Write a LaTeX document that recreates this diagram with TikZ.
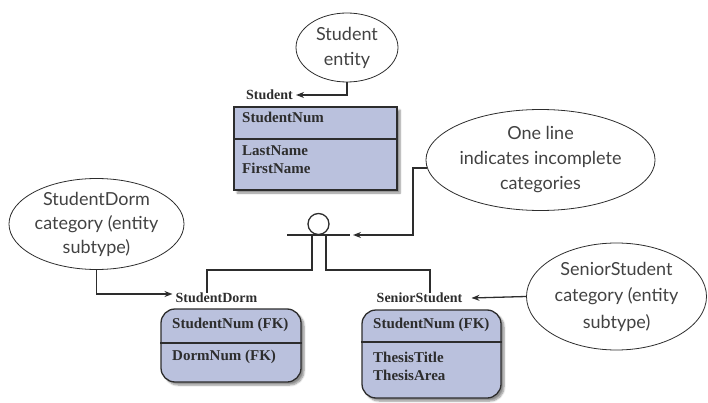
\documentclass[tikz,border=0pt]{standalone}
\usepackage{fontspec}
\setmainfont{Liberation Serif}
\newfontfamily\notesans{Lato}
\usetikzlibrary{shapes.geometric,arrows.meta,shadows.blur}
\definecolor{entfill}{RGB}{186,193,221}
\definecolor{inkc}{RGB}{45,45,45}
\tikzset{
  entbox/.style={draw=inkc, fill=entfill, line width=1.3pt,
    blur shadow={shadow xshift=3pt, shadow yshift=-3pt, shadow blur steps=6, shadow opacity=45}},
  note/.style={ellipse, draw=inkc, line width=0.8pt, inner sep=0pt, align=center,
    font=\notesans\fontsize{18}{25}\selectfont, text=inkc!90},
  lbl/.style={inner sep=0pt, font=\bfseries\fontsize{14}{16}\selectfont, text=inkc},
  attr/.style={inner sep=0pt, anchor=west, font=\bfseries\fontsize{15}{17}\selectfont, text=inkc},
  conn/.style={draw=inkc, line width=1.3pt},
  arr/.style={conn, -{Stealth[length=8pt,width=6pt]}},
}
\begin{document}
\begin{tikzpicture}[x=1pt,y=-1pt]
  \useasboundingbox (0,0) rectangle (708,403);
  % supertype
  \node[lbl] (studentlbl) at (269.5,95) {Student};
  \node[entbox, minimum width=163pt, minimum height=83pt] (studentbox) at (315.5,148.5) {};
  \draw[conn] (studentbox.west |- 0,139) -- (studentbox.east |- 0,139);
  \node[attr] (snum) at (242,117) {StudentNum};
  \node[attr] (slast) at (242,151) {LastName};
  \node[attr] (sfirst) at (242,168) {FirstName};
  % category symbol
  \coordinate (barL) at (287,235);
  \coordinate (barR) at (350,235);
  \coordinate (catL) at (312,235);
  \coordinate (catR) at (326,235);
  \coordinate (dormjoin) at (207,270);
  \coordinate (seniorjoin) at (430,270);
  \coordinate (notebend) at (413,235);
  \node[circle, draw=inkc, line width=1.3pt, minimum size=21pt, inner sep=0pt] (catcircle) at (318.5,224) {};
  \draw[conn] (barL) -- (barR);
  % subtypes
  \node[lbl] (dormlbl) at (216.5,298) {StudentDorm};
  \node[entbox, rounded corners=14pt, minimum width=140pt, minimum height=73pt] (dormbox) at (231,345.5) {};
  \draw[conn] (dormbox.west |- 0,343) -- (dormbox.east |- 0,343);
  \node[attr] (dnum) at (172,325) {StudentNum (FK)};
  \node[attr] (droom) at (172,357) {DormNum (FK)};
  \node[lbl] (seniorlbl) at (419.5,298) {SeniorStudent};
  \node[entbox, rounded corners=14pt, minimum width=139pt, minimum height=88pt] (seniorbox) at (431.5,354) {};
  \draw[conn] (seniorbox.west |- 0,342) -- (seniorbox.east |- 0,342);
  \node[attr] (nnum) at (373,325) {StudentNum (FK)};
  \node[attr] (ntitle) at (373,357) {ThesisTitle};
  \node[attr] (narea) at (373,375) {ThesisArea};
  \draw[conn] (catL) |- (dormjoin) -- (dormjoin |- dormlbl.north);
  \draw[conn] (catR) |- (seniorjoin) -- (seniorjoin |- seniorlbl.north);
  % callouts
  \node[note, minimum width=102pt, minimum height=69pt] (studentnote) at (347,47.5) {Student\\entity};
  \node[note, minimum width=193pt, minimum height=101pt] (onenote) at (540.5,160) {One line\\indicates incomplete\\categories};
  \node[note, minimum width=175pt, minimum height=84pt, font=\notesans\fontsize{18}{24}\selectfont] (dormnote) at (96.5,224) {StudentDorm\\category (entity\\subtype)};
  \node[note, minimum width=180pt, minimum height=107pt, font=\notesans\fontsize{18}{26.5}\selectfont] (seniornote) at (616.5,296.5) {SeniorStudent\\category (entity\\subtype)};
  \draw[arr] (studentnote.south) |- ([xshift=3pt]studentlbl.east);
  \draw[arr] (onenote.184) -| (notebend) -- ([xshift=3pt]barR);
  \draw[arr] (dormnote.south) |- ([xshift=-3pt,yshift=4pt]dormlbl.west);
  \draw[arr] (seniornote.west) -- ([xshift=9pt]seniorlbl.east);
\end{tikzpicture}
\end{document}
